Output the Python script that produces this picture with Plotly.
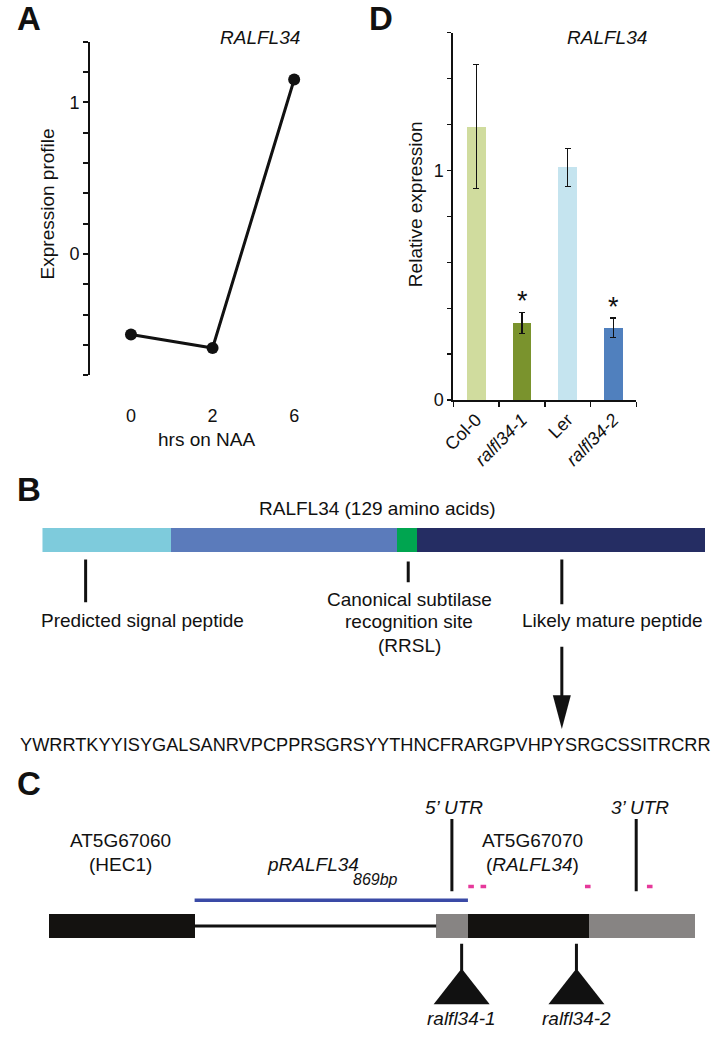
import plotly.graph_objects as go

# ---------------- data ----------------
# Panel A : expression profile on NAA
hours = ["0", "2", "6"]
profile = [-0.53, -0.62, 1.15]
profile_ticks = [-0.8, -0.6, -0.4, -0.2, 0.0, 0.2, 0.4, 0.6, 0.8, 1.0, 1.2, 1.4]
profile_ticktext = ["", "", "", "", "0", "", "", "", "", "1", "", ""]

# Panel D : relative expression
genotypes = ["Col-0", "<i>ralfl34-1</i>", "Ler", "<i>ralfl34-2</i>"]
rel_expr = [1.19, 0.336, 1.013, 0.315]
rel_err = [0.27, 0.047, 0.082, 0.043]
significant = [False, True, False, True]
bar_colors = ["#d0dc9e", "#7a932d", "#c5e4ef", "#5080be"]
expr_ticks = [0.0, 0.2, 0.4, 0.6, 0.8, 1.0, 1.2, 1.4, 1.6]
expr_ticktext = ["0", "", "", "", "", "1", "", "", ""]

# Panel B : protein domains (amino-acid positions)
protein_len = 129
domain_start = [0, 25, 69, 73]
domain_end = [25, 69, 73, 129]
domain_colors = ["#7ecbdc", "#5b7bbb", "#00a550", "#252d63"]
callout_pos = [8.4, 71.2, 101.1]
mature_seq = "YWRRTKYYISYGALSANRVPCPPRSGRSYYTHNCFRARGPVHPYSRGCSSITRCRR"

# Panel C : locus (bp, relative to promoter start)
feature_names = ["HEC1", "5'UTR", "CDS", "3'UTR"]
feature_start = [-464, 768, 869, 1254]
feature_end = [0, 869, 1254, 1591]
feature_colors = ["#141210", "#878483", "#141210", "#878483"]
promoter = [0, 869]
utr_marks = [818, 1404]
primer_pos = [879, 918, 1250, 1447]
insert_pos = [849, 1214]
insert_names = ["ralfl34-1", "ralfl34-2"]

# ---------------- layout helpers ----------------
W, H = 714, 1039
FONT = "Liberation Sans, Arial, Helvetica, sans-serif"
INK = "#111111"


def px(x):
    return x / W


def py(y):
    return 1 - y / H


fig = go.Figure()

# Panel A
fig.add_trace(go.Scatter(
    x=hours, y=profile, xaxis="x", yaxis="y", mode="lines+markers",
    line=dict(color=INK, width=3), marker=dict(size=12, color=INK),
    cliponaxis=False, showlegend=False))

# Panel D
fig.add_trace(go.Bar(
    x=genotypes, y=rel_expr, xaxis="x2", yaxis="y2", width=0.41,
    marker=dict(color=bar_colors, line=dict(width=0)),
    error_y=dict(type="data", array=rel_err, color=INK, thickness=1.2, width=3),
    showlegend=False))

# Panel B : protein bar
fig.add_trace(go.Bar(
    orientation="h", y=[545] * len(domain_start),
    x=[e - s for s, e in zip(domain_start, domain_end)], base=domain_start,
    width=24, xaxis="x3", yaxis="y3",
    marker=dict(color=domain_colors, line=dict(width=0)), showlegend=False))

cx, cy = [], []
for pos, (y0, y1) in zip(callout_pos, [(565, 608), (567, 588), (565, 610)]):
    cx += [pos, pos, None]
    cy += [y0, y1, None]
fig.add_trace(go.Scatter(x=cx, y=cy, xaxis="x3", yaxis="y3", mode="lines",
                         line=dict(color=INK, width=3), showlegend=False))
# arrow to mature peptide
fig.add_trace(go.Scatter(x=[callout_pos[2], callout_pos[2]], y=[653, 706],
                         xaxis="x3", yaxis="y3", mode="lines",
                         line=dict(color=INK, width=3), showlegend=False))

# Panel C : locus
fig.add_trace(go.Scatter(x=[feature_end[0], feature_start[1]], y=[935, 935],
                         xaxis="x4", yaxis="y4", mode="lines",
                         line=dict(color=INK, width=3), showlegend=False))
fig.add_trace(go.Scatter(x=promoter, y=[909, 909], xaxis="x4", yaxis="y4", mode="lines",
                         line=dict(color="#3a4aa6", width=3.5), showlegend=False))
fig.add_trace(go.Bar(
    orientation="h", y=[935] * len(feature_start),
    x=[e - s for s, e in zip(feature_start, feature_end)], base=feature_start,
    width=24, xaxis="x4", yaxis="y4",
    marker=dict(color=feature_colors, line=dict(width=0)), showlegend=False))
ux, uy = [], []
for p in utr_marks:
    ux += [p, p, None]
    uy += [827, 900, None]
fig.add_trace(go.Scatter(x=ux, y=uy, xaxis="x4", yaxis="y4", mode="lines",
                         line=dict(color=INK, width=3), showlegend=False))
fig.add_trace(go.Scatter(x=primer_pos, y=[895] * len(primer_pos), xaxis="x4", yaxis="y4",
                         mode="markers",
                         marker=dict(symbol="line-ew", size=4,
                                     line=dict(width=3.5, color="#e6399b")),
                         showlegend=False))
sx, sy = [], []
for p in insert_pos:
    sx += [p, p, None]
    sy += [953, 980, None]
fig.add_trace(go.Scatter(x=sx, y=sy, xaxis="x4", yaxis="y4", mode="lines",
                         line=dict(color=INK, width=3), showlegend=False))

shapes = []
for p in insert_pos:
    shapes.append(dict(type="path", xref="x4", yref="y4", xsizemode="pixel", xanchor=p,
                       path="M -28,1014 L 0,978 L 28,1014 Z",
                       fillcolor=INK, line=dict(width=0)))
shapes.append(dict(type="path", xref="x3", yref="y3", xsizemode="pixel",
                   xanchor=callout_pos[2], path="M -9,702 L 9,702 L 0,736 Z",
                   fillcolor=INK, line=dict(width=0)))

annotations = []


def ann(text, x, y, size=19, xanchor="center", angle=0, color=INK):
    annotations.append(dict(text=text, x=px(x), y=py(y), xref="paper", yref="paper",
                            xanchor=xanchor, yanchor="middle", showarrow=False,
                            textangle=angle, font=dict(family=FONT, size=size, color=color)))


# Panel letters
ann("<b>A</b>", 3, 19, size=33, xanchor="left")
ann("<b>D</b>", 361, 19, size=33, xanchor="left")
ann("<b>B</b>", 3, 494, size=33, xanchor="left")
ann("<b>C</b>", 3, 791, size=33, xanchor="left")

# Panel A text
ann("<i>RALFL34</i>", 252, 38)
ann("Expression profile", 36, 206, angle=-90)
ann("hrs on NAA", 197.5, 444)

# Panel D text
ann("<i>RALFL34</i>", 605, 38)
ann("Relative expression", 410, 206, angle=-90)
for g, v, e, s in zip(genotypes, rel_expr, rel_err, significant):
    if s:
        annotations.append(dict(text="*", x=g, y=v + e, xref="x2", yref="y2",
                                yanchor="middle", yshift=11, showarrow=False,
                                font=dict(family=FONT, size=27, color=INK)))

# Panel B text
ann("RALFL34 (129 amino acids)", 372, 513)
ann("Predicted signal peptide", 133, 627)
ann("Canonical subtilase", 404, 605)
ann("recognition site", 404, 628)
ann("(RRSL)", 404, 652)
ann("Likely mature peptide", 611, 627)
ann(mature_seq, 360, 752, size=18.2)

# Panel C text
ann("<i>5\u2019 UTR</i>", 450, 815)
ann("<i>3\u2019 UTR</i>", 639, 815)
ann("AT5G67060", 110, 849)
ann("(HEC1)", 110, 873)
ann("<i>pRALFL34</i>", 306, 873)
ann("<i>869bp</i>", 370, 888, size=16)
ann("AT5G67070", 529, 849)
ann("(<i>RALFL34</i>)", 529, 873)
for p, name in zip(insert_pos, insert_names):
    annotations.append(dict(text="<i>" + name + "</i>", x=p, y=py(1028), xref="x4", yref="paper",
                            yanchor="middle", showarrow=False,
                            font=dict(family=FONT, size=19, color=INK)))

axis_font = dict(family=FONT, size=18, color=INK)

fig.update_layout(
    width=W, height=H, autosize=False,
    margin=dict(l=0, r=0, t=0, b=0),
    paper_bgcolor="white", plot_bgcolor="rgba(0,0,0,0)",
    showlegend=False, bargap=0,
    font=dict(family=FONT, color=INK),
    shapes=shapes, annotations=annotations,
    # Panel A
    xaxis=dict(domain=[px(79.5), px(328.5)], anchor="y", type="category",
               range=[-0.5, 2.5], showline=False, ticks="", showgrid=False,
               zeroline=False, tickfont=axis_font, ticklabelstandoff=28),
    yaxis=dict(domain=[py(379), py(42)], anchor="x", range=[-0.8, 1.4],
               showline=True, linewidth=2, linecolor=INK, ticks="outside",
               ticklen=5, tickwidth=2, tickcolor=INK, tickvals=profile_ticks,
               ticktext=profile_ticktext, showgrid=False, zeroline=False,
               tickfont=axis_font),
    # Panel D
    xaxis2=dict(domain=[px(449), px(635)], anchor="y2", type="category",
                range=[-0.5, 3.5], showline=True, linewidth=2, linecolor=INK,
                ticks="outside", tickson="boundaries", ticklen=5, tickwidth=1.5,
                tickcolor=INK, tickangle=-45, showgrid=False, zeroline=False,
                tickfont=axis_font),
    yaxis2=dict(domain=[py(404), py(33)], anchor="x2", range=[0, 1.6],
                showline=True, linewidth=2, linecolor=INK, ticks="outside",
                ticklen=4, tickwidth=1.5, tickcolor=INK, tickvals=expr_ticks,
                ticktext=expr_ticktext, showgrid=False, zeroline=False,
                tickfont=axis_font),
    # Panel B (amino-acid axis, rows in pixels)
    xaxis3=dict(domain=[px(31), px(705)], anchor="y3", range=[0, protein_len], visible=False),
    yaxis3=dict(domain=[py(770), py(480)], anchor="x3", range=[770, 480], visible=False),
    # Panel C (bp axis)
    xaxis4=dict(domain=[px(37.3), px(694.7)], anchor="y4", range=[-464, 1591], visible=False),
    yaxis4=dict(domain=[0, py(770)], anchor="x4", range=[H, 770], visible=False),
)

fig.write_html("out.html",
               config={"displayModeBar": False, "staticPlot": True},
               post_script="document.body.style.margin='0';document.body.style.overflow='hidden';")
